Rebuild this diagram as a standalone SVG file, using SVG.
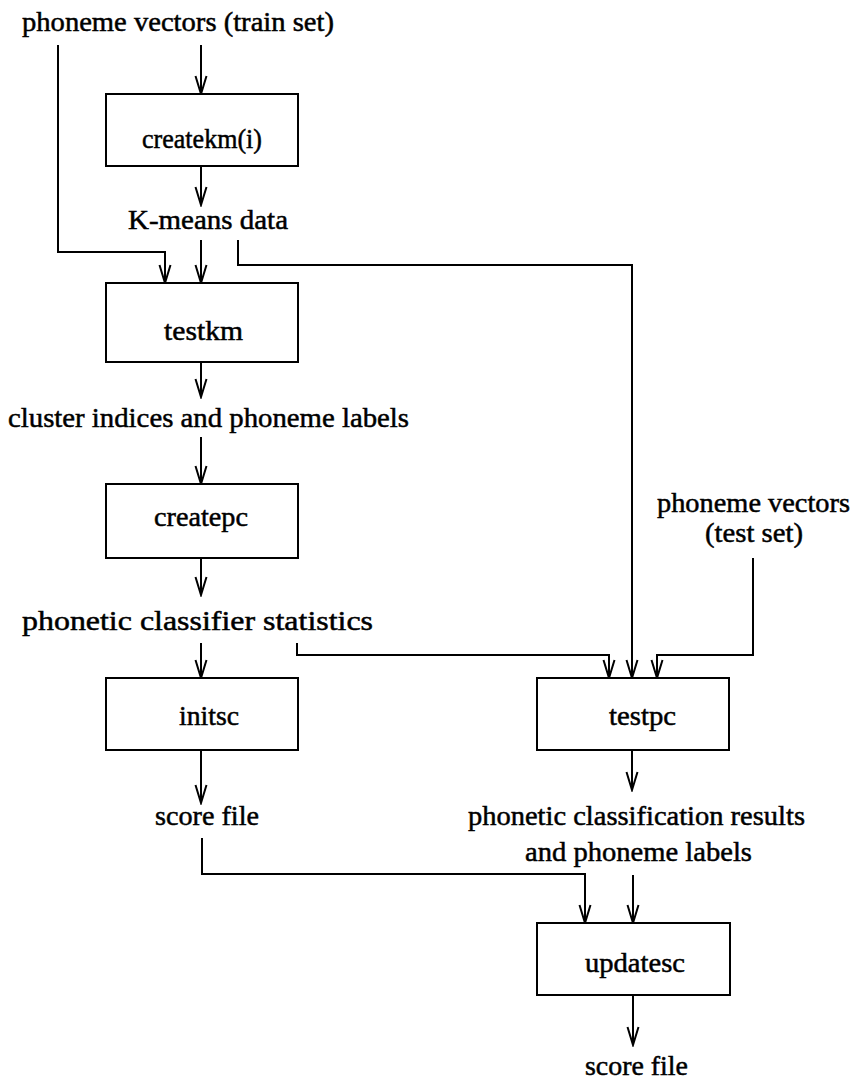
<svg xmlns="http://www.w3.org/2000/svg" width="856" height="1082" viewBox="0 0 856 1082">
<style>
  .bg{fill:#fff}
  .box{fill:#fff;stroke:#000;stroke-width:2}
  .lbl{font-family:"Liberation Serif","Times New Roman",serif;font-size:28px;fill:#000;stroke:#000;stroke-width:0.5}
  .conn{fill:none;stroke:#000;stroke-width:2;marker-end:url(#arr)}
</style>
<defs>
  <marker id="arr" markerUnits="userSpaceOnUse" viewBox="-19 -8 21 16" refX="0" refY="0" markerWidth="21" markerHeight="16" orient="auto">
    <path d="M-18,-5.5 L0,0 L-18,5.5" fill="none" stroke="#000" stroke-width="2"/>
  </marker>
</defs>
<rect class="bg" x="0" y="0" width="856" height="1082"/>

<g id="connectors">
  <path class="conn" d="M201,45 L201,94"/>
  <path class="conn" d="M201,166 L201,205"/>
  <path class="conn" d="M58,45 L58,252 L165,252 L165,283"/>
  <path class="conn" d="M201,240 L201,283"/>
  <path class="conn" d="M238,240 L238,265 L632,265 L632,678"/>
  <path class="conn" d="M201,362 L201,397"/>
  <path class="conn" d="M201,437 L201,484"/>
  <path class="conn" d="M201,558 L201,595"/>
  <path class="conn" d="M201,643 L201,678"/>
  <path class="conn" d="M297,643 L297,655 L609,655 L609,678"/>
  <path class="conn" d="M753,558 L753,655 L657,655 L657,678"/>
  <path class="conn" d="M201,750 L201,803"/>
  <path class="conn" d="M632,750 L632,790"/>
  <path class="conn" d="M202,838 L202,874 L585,874 L585,923"/>
  <path class="conn" d="M633,875 L633,923"/>
  <path class="conn" d="M633,995 L633,1045"/>
</g>

<g id="createkm"><rect class="box" x="106" y="94" width="192" height="72"/><text class="lbl" x="142" y="148" textLength="120" lengthAdjust="spacingAndGlyphs">createkm(i)</text></g>
<g id="testkm"><rect class="box" x="106" y="283" width="192" height="79"/><text class="lbl" x="164" y="340" textLength="79" lengthAdjust="spacingAndGlyphs">testkm</text></g>
<g id="createpc"><rect class="box" x="106" y="484" width="192" height="74"/><text class="lbl" x="154" y="526" textLength="94" lengthAdjust="spacingAndGlyphs">createpc</text></g>
<g id="initsc"><rect class="box" x="106" y="678" width="192" height="72"/><text class="lbl" x="179" y="725" textLength="60" lengthAdjust="spacingAndGlyphs">initsc</text></g>
<g id="testpc"><rect class="box" x="537" y="678" width="192" height="72"/><text class="lbl" x="609" y="725" textLength="67" lengthAdjust="spacingAndGlyphs">testpc</text></g>
<g id="updatesc"><rect class="box" x="537" y="923" width="193" height="72"/><text class="lbl" x="585" y="972" textLength="100" lengthAdjust="spacingAndGlyphs">updatesc</text></g>

<g id="train-vectors"><text class="lbl" x="22" y="31" textLength="312" lengthAdjust="spacingAndGlyphs">phoneme vectors (train set)</text></g>
<g id="kmeans-data"><text class="lbl" x="128" y="229" textLength="160" lengthAdjust="spacingAndGlyphs">K-means data</text></g>
<g id="cluster-indices"><text class="lbl" x="8" y="427" textLength="401" lengthAdjust="spacingAndGlyphs">cluster indices and phoneme labels</text></g>
<g id="pc-stats"><text class="lbl" x="22" y="630" textLength="351" lengthAdjust="spacingAndGlyphs">phonetic classifier statistics</text></g>
<g id="test-vectors"><text class="lbl" x="657" y="512" textLength="193" lengthAdjust="spacingAndGlyphs">phoneme vectors</text><text class="lbl" x="705" y="542" textLength="98" lengthAdjust="spacingAndGlyphs">(test set)</text></g>
<g id="score-file-1"><text class="lbl" x="155" y="825" textLength="104" lengthAdjust="spacingAndGlyphs">score file</text></g>
<g id="pc-results"><text class="lbl" x="468" y="825" textLength="337" lengthAdjust="spacingAndGlyphs">phonetic classification results</text><text class="lbl" x="525" y="861" textLength="227" lengthAdjust="spacingAndGlyphs">and phoneme labels</text></g>
<g id="score-file-2"><text class="lbl" x="585" y="1075" textLength="103" lengthAdjust="spacingAndGlyphs">score file</text></g>
</svg>
